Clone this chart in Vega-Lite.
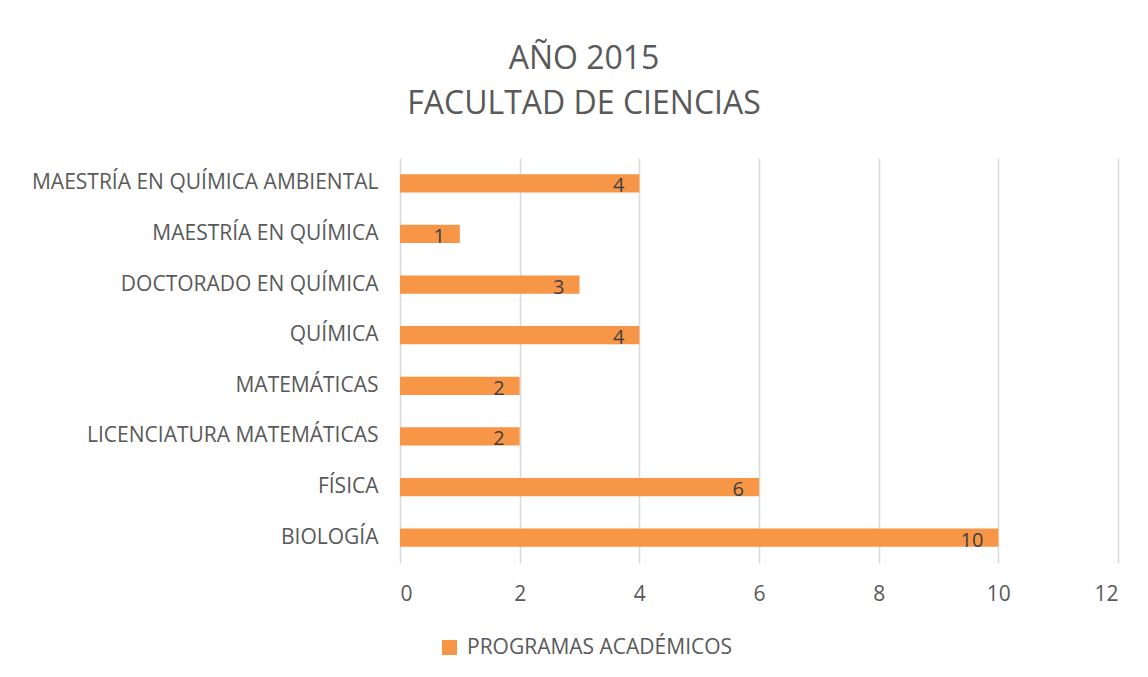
{
  "$schema": "https://vega.github.io/schema/vega-lite/v6.json",
  "width": 718,
  "height": 405,
  "autosize": {"type": "none"},
  "padding": {"left": 400, "top": 158, "right": 30, "bottom": 114},
  "background": "white",
  "title": {
    "text": ["AÑO 2015", "FACULTAD DE CIENCIAS"],
    "font": "Open Sans",
    "fontSize": 32,
    "fontWeight": "normal",
    "color": "#595959",
    "anchor": "middle",
    "frame": "group",
    "dx": -175,
    "offset": 37,
    "lineHeight": 45
  },
  "data": {
    "values": [
      {"programa": "MAESTRÍA EN QUÍMICA AMBIENTAL", "valor": 4, "serie": "PROGRAMAS ACADÉMICOS"},
      {"programa": "MAESTRÍA EN QUÍMICA", "valor": 1, "serie": "PROGRAMAS ACADÉMICOS"},
      {"programa": "DOCTORADO EN QUÍMICA", "valor": 3, "serie": "PROGRAMAS ACADÉMICOS"},
      {"programa": "QUÍMICA", "valor": 4, "serie": "PROGRAMAS ACADÉMICOS"},
      {"programa": "MATEMÁTICAS", "valor": 2, "serie": "PROGRAMAS ACADÉMICOS"},
      {"programa": "LICENCIATURA MATEMÁTICAS", "valor": 2, "serie": "PROGRAMAS ACADÉMICOS"},
      {"programa": "FÍSICA", "valor": 6, "serie": "PROGRAMAS ACADÉMICOS"},
      {"programa": "BIOLOGÍA", "valor": 10, "serie": "PROGRAMAS ACADÉMICOS"}
    ]
  },
  "encoding": {
    "y": {
      "field": "programa",
      "type": "nominal",
      "sort": null,
      "scale": {"paddingInner": 0.64, "paddingOuter": 0.32},
      "axis": {
        "title": null,
        "domain": false,
        "ticks": false,
        "labelPadding": 22,
        "labelFont": "Open Sans",
        "labelFontSize": 21,
        "labelColor": "#595959",
        "labelLimit": 420
      }
    },
    "x": {
      "field": "valor",
      "type": "quantitative",
      "scale": {"domain": [0, 12], "nice": false},
      "axis": {
        "title": null,
        "values": [0, 2, 4, 6, 8, 10, 12],
        "domain": false,
        "ticks": false,
        "grid": true,
        "gridColor": "#D9D9D9",
        "gridWidth": 1.5,
        "labelPadding": 20,
        "labelFont": "Open Sans",
        "labelFontSize": 21,
        "labelColor": "#595959"
      }
    }
  },
  "layer": [
    {
      "mark": {"type": "bar"},
      "encoding": {
        "color": {
          "field": "serie",
          "type": "nominal",
          "scale": {"range": ["#F79646"]},
          "legend": {
            "title": null,
            "orient": "none",
            "legendX": 39,
            "legendY": 479,
            "symbolType": "square",
            "symbolSize": 225,
            "symbolStrokeWidth": 0,
            "labelFont": "Open Sans",
            "labelFontSize": 21,
            "labelColor": "#595959",
            "labelOffset": 7,
            "labelLimit": 400
          }
        }
      }
    },
    {
      "mark": {
        "type": "text",
        "align": "right",
        "baseline": "middle",
        "dx": -15,
        "dy": 3,
        "font": "Open Sans",
        "fontSize": 20,
        "color": "#404040"
      },
      "encoding": {"text": {"field": "valor", "type": "quantitative"}}
    }
  ],
  "config": {"view": {"stroke": null}}
}
